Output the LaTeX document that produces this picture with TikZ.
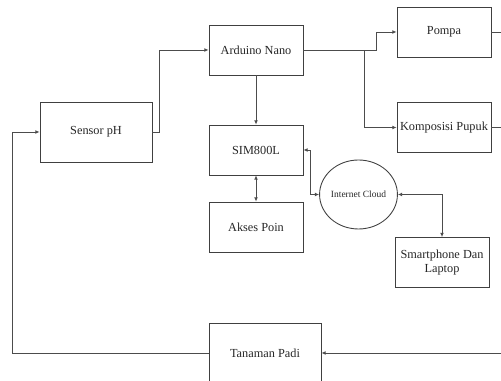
\documentclass[tikz,border=0pt]{standalone}
\usepackage{fontspec}
\setmainfont{Liberation Serif}
\usetikzlibrary{arrows.meta,shapes.geometric}

\tikzset{
	blok/.style={draw=black!75, line width=0.5pt, minimum width=1.88cm, minimum height=1cm, inner sep=1pt, align=center, text=black!85, font=\fontsize{7}{8.4}\selectfont},
	blokbesar/.style={blok, minimum width=2.24cm, minimum height=1.2cm},
	awan/.style={ellipse, draw=black!75, line width=0.5pt, minimum width=1.54cm, minimum height=1.38cm, inner sep=0pt, text=black!85, font=\fontsize{5.4}{6}\selectfont},
	garis/.style={draw=black!70, line width=0.5pt},
	panah/.style={garis, -{Latex[length=2.4pt,width=2.2pt]}},
	duapanah/.style={garis, {Latex[length=2.4pt,width=2.2pt]}-{Latex[length=2.4pt,width=2.2pt]}},
}

\begin{document}
\begin{tikzpicture}[x=0.02cm, y=-0.02cm]
		%%%%% START %%%%%
		\useasboundingbox (0, 0) rectangle (501, 381);
		\clip (0, 0) rectangle (501, 381);
		
		\node[blokbesar] (sensor) at (96, 132) {Sensor pH};
		\node[blok] (arduino) at (256, 50) {Arduino Nano};
		\node[blok] (sim) at (256, 150) {SIM800L};
		\node[blok] (akses) at (256, 227) {Akses Poin};
		\node[blok] (pompa) at (444, 32) {Pompa};
		\node[blok] (pupuk) at (444, 127.5) {Komposisi Pupuk};
		\node[awan] (cloud) at (358.5, 194.5) {Internet Cloud};
		\node[blok] (hp) at (442, 262.5) {Smartphone Dan\\Laptop};
		\node[blokbesar] (padi) at (265, 353) {Tanaman Padi};
		
		\coordinate (balik) at (515, 32);
		
		\draw[panah] (sensor.east) -- ++(7, 0) |- (arduino.west);
		\draw[panah] (arduino.east) -- ++(73, 0) |- (pompa.west);
		\draw[panah] (arduino.east) -- ++(61, 0) |- (pupuk.west);
		\draw[panah] (arduino) -- (sim);
		\draw[duapanah] (sim) -- (akses);
		\draw[duapanah] (sim.east) -- ++(7, 0) |- (cloud.west);
		\draw[duapanah] (cloud.east) -| (hp.north);
		
		\draw[garis] (pompa.east) -- (balik);
		\draw[garis] (pupuk.east) -- (pupuk.east -| balik);
		\draw[panah] (balik) |- (padi.east);
		\draw[panah] (padi.west) -- ++(-196, 0) |- (sensor.west);
		
		%%%%% END %%%%%
	\end{tikzpicture}
\end{document}
